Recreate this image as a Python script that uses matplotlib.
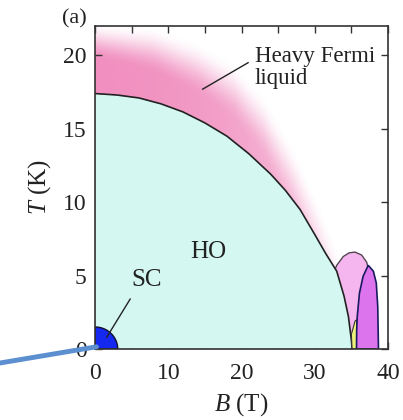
import numpy as np
import matplotlib
matplotlib.use('Agg')
import matplotlib.pyplot as plt

plt.rcParams['font.family'] = ['Liberation Serif', 'DejaVu Serif']
plt.rcParams['mathtext.fontset'] = 'custom'
plt.rcParams['mathtext.rm'] = 'Liberation Serif'
plt.rcParams['mathtext.it'] = 'Liberation Serif:italic'

# hidden order boundary T_HO(B)
ho_B = [0, 3, 6, 9, 12, 15, 18, 21, 24, 26, 28, 30, 31.5, 33, 34, 34.6, 35.0, 35.1]
ho_T = [17.4, 17.3, 17.1, 16.7, 16.15, 15.4, 14.5, 13.3, 11.9, 10.8, 9.5, 7.8,
        6.5, 5.3, 3.6, 2.2, 0.6, 0]

# outer (fading) edge of the heavy Fermi liquid region
hfl_B = [0, 8, 14, 19, 23, 27, 30, 32.5, 34, 40]
hfl_T = [22.3, 22.0, 21.0, 19.6, 17.4, 14.0, 10.8, 7.8, 5.5, 0]

# light pink dome near 35 T
pd_B = [32.6, 33.0, 33.9, 34.7, 35.5, 36.4, 37.1, 37.5, 37.5, 34.5]
pd_T = [5.2, 5.7, 6.3, 6.55, 6.6, 6.4, 5.9, 5.0, 0, 0]

# violet dome
vd_B = [35.7, 35.72, 35.8, 36.1, 36.6, 37.3, 38.0, 38.4, 38.6, 38.7]
vd_T = [0, 1.2, 2.2, 3.8, 4.95, 5.7, 5.3, 4.5, 2.9, 0]

# yellow sliver
y_B = [35.1, 35.0, 35.5, 35.75, 35.75]
y_T = [0, 1.0, 1.9, 2.0, 0]

# superconducting dome (quarter ellipse)
sc_a, sc_b = 3.1, 1.5

fig = plt.figure(figsize=(4.03, 4.2), dpi=100)
ax = fig.add_axes([95/403, 71/420, 293/403, 323/420])
ax.set_xlim(0, 40)
ax.set_ylim(0, 22)

# pink gradient for the heavy Fermi liquid
bb = np.linspace(0, 40, 400)
tt = np.linspace(0, 22, 300)
BB, TT = np.meshgrid(bb, tt)
tout = np.interp(BB, hfl_B, hfl_T)
w = 2.5 + 2.5 * (BB / 30)
s = np.clip((tout - TT) / w, 0, 1)
s = s * s * (3 - 2 * s)
alpha = s * np.clip(1 - 0.55 * (BB / 34) ** 2, 0, 1) * 0.74
img = np.zeros(BB.shape + (4,))
img[..., 0] = 236 / 255
img[..., 1] = 105 / 255
img[..., 2] = 170 / 255
img[..., 3] = alpha
ax.imshow(img, extent=[0, 40, 0, 22], origin='lower', aspect='auto',
          interpolation='bilinear', zorder=1)

ax.fill(pd_B, pd_T, color='#f5b5ef', zorder=2)
ax.plot(pd_B[:8], pd_T[:8], color='#444444', lw=0.9, zorder=2.5)

ax.fill_between(ho_B, ho_T, 0, color='#d4f8f1', lw=0, zorder=3)
ax.plot(ho_B, ho_T, color='#222222', lw=1.2, zorder=4)

ax.fill(y_B, y_T, facecolor='#eef27a', edgecolor='#333333', lw=0.8, zorder=5)
ax.fill(vd_B, vd_T, facecolor='#dc74ee', edgecolor='#1a1a60', lw=1.2, zorder=6)

th = np.linspace(0, np.pi / 2, 40)
ax.fill(np.r_[0, sc_a * np.cos(th)], np.r_[0, sc_b * np.sin(th)],
        facecolor='#1428f0', edgecolor='#111133', lw=1.0, zorder=7)

ax.text(15.4, 6.6, 'HO', fontsize=18, ha='center', va='center', color='#222222', zorder=8)
ax.text(7.1, 4.7, 'SC', fontsize=18, ha='center', va='center', color='#222222', zorder=8)
ax.plot([4.8, 1.6], [3.4, 0.8], color='#222222', lw=1.0, zorder=8)
ax.text(21.8, 19.9, 'Heavy Fermi', fontsize=16.5, ha='left', va='center', color='#222222', zorder=8)
ax.text(21.8, 18.4, 'liquid', fontsize=16.5, ha='left', va='center', color='#222222', zorder=8)
ax.plot([20.9, 14.7], [19.5, 17.7], color='#222222', lw=1.0, zorder=8)

ax.set_xticks([0, 10, 20, 30, 40])
ax.set_xticks([5, 15, 25, 35], minor=True)
ax.set_yticks([0, 5, 10, 15, 20])
ax.tick_params(which='both', direction='in', top=True, right=True, length=5,
               width=1.0, labelsize=17, pad=6, colors='#333333')
ax.tick_params(axis='x', pad=10)
ax.tick_params(labelcolor='#222222')
for sp in ax.spines.values():
    sp.set_linewidth(1.2)
    sp.set_color('#333333')
    sp.set_zorder(10)

ax.set_xlabel('$B$ (T)', fontsize=18, labelpad=5, color='#222222')
ax.set_ylabel('$T$ (K)', fontsize=18, labelpad=7, color='#222222')
fig.text(62/403, 1 - 19/420, '(a)', fontsize=16, ha='left', va='center', color='#222222')

ax.annotate('', xy=(0.2, 0.15), xycoords='data', xytext=(0, 1 - 363/420),
            textcoords='figure fraction', annotation_clip=False,
            arrowprops=dict(arrowstyle='-', lw=3.5, color='#5b8fd0',
                            shrinkA=0, shrinkB=0), zorder=20)

fig.savefig('out.png', dpi=100)
